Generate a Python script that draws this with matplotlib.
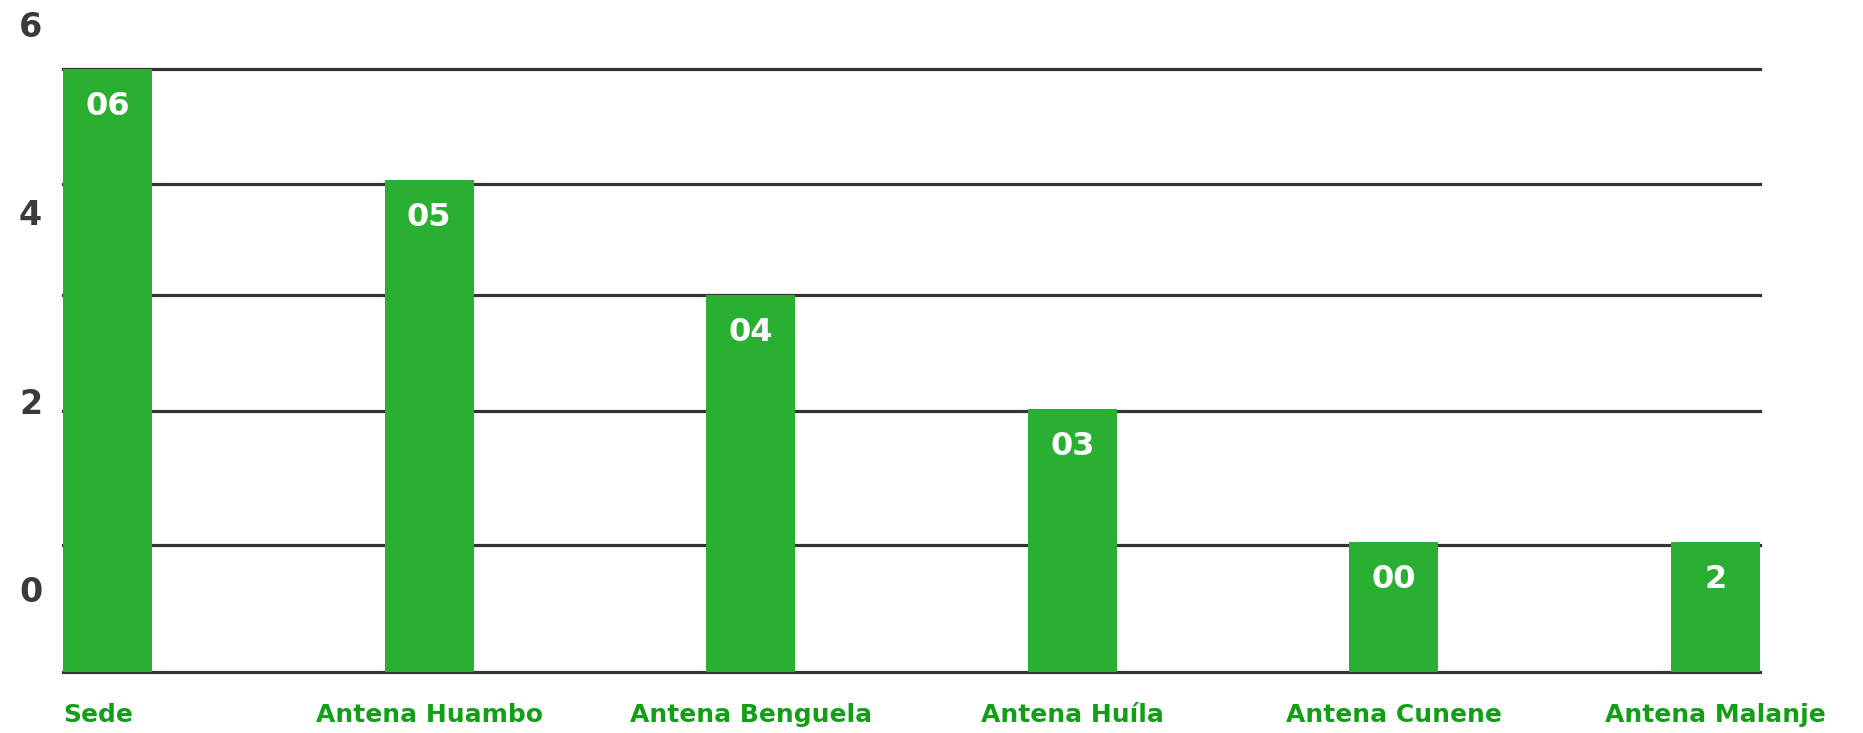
import matplotlib.pyplot as plt
import matplotlib.transforms as mtransforms

# data (y units match the 0/2/4/6 tick labels)
categories = ["Sede", "Antena Huambo", "Antena Benguela", "Antena Huíla",
              "Antena Cunene", "Antena Malanje"]
bar_tops = [5.52, 4.34, 3.12, 1.91, 0.50, 0.50]
bar_labels = ["06", "05", "04", "03", "00", "2"]
baseline = -0.88
grid_levels = [5.52, 4.30, 3.12, 1.89, 0.47, -0.88]
y_ticks = [0, 2, 4, 6]

bar_color = "#29b033"
label_green = "#139e17"
dark = "#3a3a3a"
font = ["DejaVu Sans"]

fig = plt.figure(figsize=(18.63, 7.33), dpi=100)
ax = fig.add_axes([63 / 1863, 61 / 733, 1697 / 1863, 672 / 733])

width = 0.2767
x = list(range(len(categories)))
heights = [t - baseline for t in bar_tops]
ax.bar(x, heights, bottom=baseline, width=width, color=bar_color, zorder=3)

for lvl in grid_levels:
    ax.axhline(lvl, color="#333333", linewidth=2.3, zorder=2, clip_on=False)

for xi, top, txt in zip(x, bar_tops, bar_labels):
    ax.annotate(txt, (xi, top), xytext=(0, -27), textcoords="offset points",
                ha="center", va="center", color="white", fontsize=23,
                fontweight="bold", family=font, zorder=4)

ax.set_xlim(-width / 2, len(categories) - 1 + width / 2)
ax.set_ylim(baseline, 6.25)

ax.set_yticks(y_ticks)
ax.set_yticklabels([str(v) for v in y_ticks], fontsize=24, fontweight="bold",
                   color=dark, family=font)
ax.set_xticks(x)
ax.set_xticklabels(categories, fontsize=18, fontweight="bold",
                   color=label_green, family=font)
ax.tick_params(axis="y", length=0, pad=15)
ax.tick_params(axis="x", length=0, pad=22)

# "Sede" sits flush with the left edge of its bar
first = ax.get_xticklabels()[0]
first.set_ha("left")
first.set_transform(first.get_transform() +
                    mtransforms.ScaledTranslation(-44.5 / 100, 0, fig.dpi_scale_trans))

for s in ax.spines.values():
    s.set_visible(False)

fig.savefig("out.png", dpi=100, facecolor="white")
